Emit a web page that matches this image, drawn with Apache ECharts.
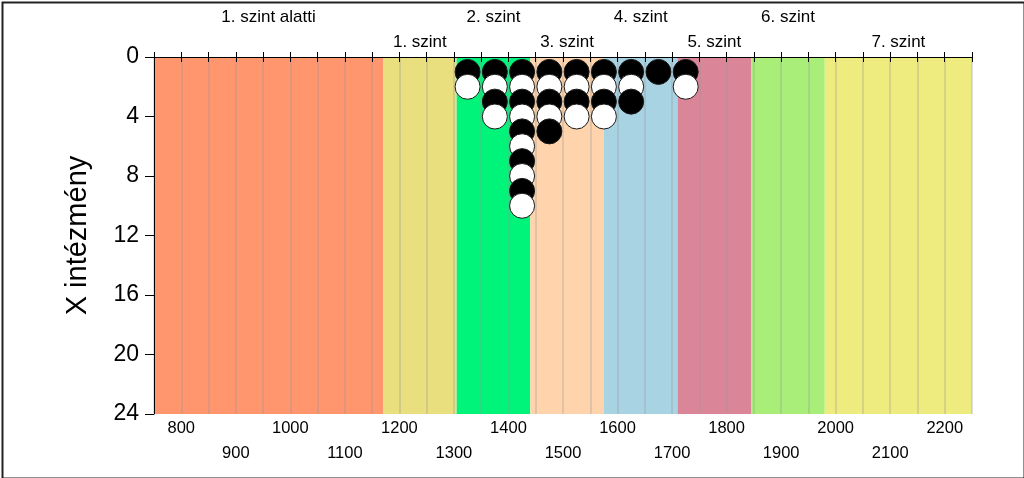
<!DOCTYPE html>
<html>
<head>
<meta charset="utf-8">
<script src="https://cdn.jsdelivr.net/npm/echarts@6/dist/echarts.min.js"></script>
<style>
html,body{margin:0;padding:0;background:#fff;}
#chart{width:1024px;height:478px;}
</style>
</head>
<body>
<div id="chart"></div>
<script>
// Level bands (x ranges) and names
const bandStarts = [750, 1170, 1305, 1440, 1575, 1710, 1845, 1980];
const bandEnds   = [1170, 1305, 1440, 1575, 1710, 1845, 1980, 2250];
const bandNames  = ['1. szint alatti', '1. szint', '2. szint', '3. szint', '4. szint', '5. szint', '6. szint', '7. szint'];
// Dot columns: bin centres and number of institutions stacked in each
const binCenters = [1325, 1375, 1425, 1475, 1525, 1575, 1625, 1675, 1725];
const binCounts  = [2, 4, 10, 5, 4, 4, 3, 1, 2];
// Axis extents
const xMin = 750, xMax = 2250, xStep = 50;
const yMin = 0, yMax = 24, yStep = 4;

// styles
const bandColors = ['#FF966E', '#EADF7F', '#00F47A', '#FFD4AD', '#A8D3E3', '#DB8599', '#A8EE78', '#EEEC7E'];
const FONT = 'Liberation Sans, Arial, sans-serif';

const bandData = bandStarts.map((s, i) => [s, bandEnds[i], i]);
const dots = [];
binCenters.forEach((x, i) => {
  for (let k = 1; k <= binCounts[i]; k++) {
    dots.push({
      value: [x, k],
      itemStyle: { color: k % 2 === 1 ? '#000000' : '#ffffff', borderColor: '#1a1a1a', borderWidth: 1, opacity: 1 }
    });
  }
});

const chart = echarts.init(document.getElementById('chart'), null, { renderer: 'canvas' });
chart.setOption({
  backgroundColor: '#ffffff',
  animation: false,
  grid: { left: 154, right: 52, top: 57, bottom: 64, containLabel: false },
  xAxis: [
    {
      type: 'value', position: 'bottom', min: xMin, max: xMax, interval: xStep, z: 2,
      axisLine: { show: true, lineStyle: { color: '#000', width: 1 } },
      axisTick: { show: true, length: 5, lineStyle: { color: '#000' } },
      splitLine: { show: true, lineStyle: { color: 'rgba(150,150,150,0.4)', width: 1.5 } },
      axisLabel: {
        interval: 0, margin: 2, color: '#000', fontFamily: FONT, fontSize: 16.5, lineHeight: 25,
        formatter: v => (v % 200 === 0 ? String(v) : (v % 100 === 0 ? '\n' + v : ''))
      }
    },
    {
      type: 'value', position: 'top', min: xMin, max: xMax, interval: xStep, z: 2,
      axisLine: { show: true, lineStyle: { color: '#000', width: 1 } },
      axisTick: { show: true, length: 5, lineStyle: { color: '#000' } },
      splitLine: { show: false },
      axisLabel: { show: false }
    }
  ],
  yAxis: {
    type: 'value', inverse: true, min: yMin, max: yMax, interval: yStep, z: 2,
    name: 'X intézmény', nameLocation: 'middle', nameRotate: 90, nameGap: 62,
    nameTextStyle: { color: '#000', fontFamily: FONT, fontSize: 29 },
    axisLine: { show: true, lineStyle: { color: '#000', width: 1 } },
    axisTick: { show: true, length: 9, lineStyle: { color: '#000' } },
    splitLine: { show: false },
    axisLabel: { margin: 15, color: '#000', fontFamily: FONT, fontSize: 23 }
  },
  series: [
    {
      type: 'custom', z: 1, xAxisIndex: 0, yAxisIndex: 0, silent: true, clip: false,
      encode: { x: [0, 1] },
      data: bandData,
      renderItem: (params, api) => {
        const i = api.value(2);
        const p1 = api.coord([api.value(0), yMin]);
        const p2 = api.coord([api.value(1), yMax]);
        const upper = i % 2 === 0;
        return {
          type: 'group',
          children: [
            { type: 'rect', shape: { x: p1[0], y: p1[1], width: p2[0] - p1[0], height: p2[1] - p1[1] },
              style: { fill: bandColors[i] } },
            { type: 'text', style: {
                text: bandNames[i], x: (p1[0] + p2[0]) / 2, y: p1[1] - (upper ? 40 : 15),
                align: 'center', verticalAlign: 'middle', fill: '#000', fontFamily: FONT, fontSize: 17 } }
          ]
        };
      }
    },
    {
      type: 'scatter', z: 3, xAxisIndex: 0, yAxisIndex: 0,
      symbol: 'circle', symbolSize: 25,
      itemStyle: { opacity: 1 },
      data: dots
    }
  ],
  graphic: [
    { type: 'rect', left: 0, top: 0, z: 100, silent: true,
      shape: { x: 0, y: 0, width: 1022, height: 476 },
      style: { fill: 'none', stroke: '#222', lineWidth: 2 }, position: [1, 1] }
  ]
});
</script>
</body>
</html>
